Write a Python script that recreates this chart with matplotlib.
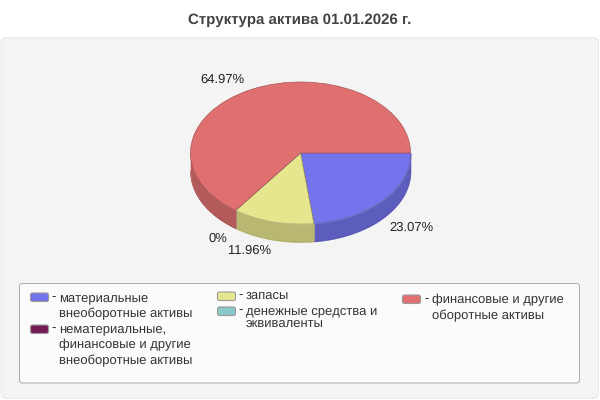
import numpy as np
import matplotlib
matplotlib.use('Agg')
import matplotlib.pyplot as plt
from matplotlib.patches import FancyBboxPatch

plt.rcParams['font.family'] = ['Liberation Sans', 'DejaVu Sans']
plt.rcParams['text.hinting'] = 'no_hinting'
plt.rcParams['text.hinting_factor'] = 1

title = 'Структура актива 01.01.2026 г.'
values = [23.07, 0, 11.96, 0, 64.97]
pct_labels = ['23.07%', '0%', '11.96%', '64.97%']
colors = ['#7474EC', '#741B55', '#E6E68F', '#8AC8C8', '#E07070']
legend_names = ['материальные\nвнеоборотные активы',
                'нематериальные,\nфинансовые и другие\nвнеоборотные активы',
                'запасы',
                'денежные средства и\nэквиваленты',
                'финансовые и другие\nоборотные активы']

W, H = 600, 400
fig = plt.figure(figsize=(6, 4), dpi=100, facecolor='white')

# фон в пикселях, y вниз
bg = fig.add_axes([0, 0, 1, 1])
bg.set_xlim(0, W)
bg.set_ylim(H, 0)
bg.axis('off')


def box(ax, x0, y0, x1, y1, r, fc, ec, lw=1, z=1):
    ax.add_patch(FancyBboxPatch((x0, y0), x1 - x0, y1 - y0,
                                boxstyle=f'round,pad=0,rounding_size={r}',
                                fc=fc, ec=ec, lw=lw, zorder=z))


box(bg, 1, 37.5, 598.5, 398.5, 6, '#F4F4F4', '#E8E8E8', lw=0.7)
box(bg, 19.5, 283.5, 579.5, 383, 3, '#FBFBFB', '#AAAAAA', lw=0.7)
bg.text(299.5, 20, title, ha='center', va='center', fontsize=10.6, fontweight='bold', color='#444444')

# пирог: оси по размеру эллипса, соотношение сторон свободное
cx, cy, rx, ry, depth = 300.5, 153, 110, 71, 18
pie_ax = fig.add_axes([(cx - rx) / W, 1 - (cy + ry) / H, 2 * rx / W, 2 * ry / H])
wedges, _ = pie_ax.pie(values, colors=colors, startangle=0, counterclock=False, radius=1,
                       wedgeprops={'linewidth': 0.5})
for w, c in zip(wedges, colors):
    w.set_edgecolor(tuple(v * 0.75 for v in matplotlib.colors.to_rgb(c)))
pie_ax.set_aspect('auto')
pie_ax.set_xlim(-1, 1)
pie_ax.set_ylim(-1, 1)
pie_ax.patch.set_visible(False)

# боковая стенка из тех же долей
d = depth / ry
edges = np.cumsum([0] + values) / sum(values) * 2 * np.pi
for i, c in enumerate(colors):
    a0, a1 = edges[i], min(edges[i + 1], np.pi)
    if a1 <= a0:
        continue
    t = np.linspace(a0, a1, 80)
    xs, ys = np.cos(t), -np.sin(t)
    side = tuple(v * 0.8 for v in matplotlib.colors.to_rgb(c))
    pie_ax.fill_between(xs, ys - d, ys, color=side, lw=0.4, zorder=0, clip_on=False)
    pie_ax.plot(xs, ys - d, color=tuple(v * 0.75 for v in matplotlib.colors.to_rgb(c)),
                lw=0.5, zorder=0.5, clip_on=False)

# подписи долей
label_pos = [(411, 228), (218, 239), (249, 251), (222, 80)]
for s, (x, y) in zip(pct_labels, label_pos):
    bg.text(x, y, s, ha='center', va='center', fontsize=9.5, color='#222222')

# легенда
swatches = [(30.5, 293), (30.5, 325), (217.5, 292), (217.5, 307), (402.5, 295)]
text_x = [59, 59, 246, 246, 432]
text_y = [298, 329, 296, 311, 300]
line_step = [16, 16, 16, 12.5, 16]
for i, name in enumerate(legend_names):
    sx, sy = swatches[i]
    box(bg, sx, sy, sx + 18, sy + 8.5, 2, colors[i], '#999999', lw=0.8, z=2)
    bg.text(text_x[i] - 5.5, text_y[i], '-', ha='center', va='center', fontsize=9.5, color='#333333')
    for j, line in enumerate(name.split('\n')):
        bg.text(text_x[i], text_y[i] + j * line_step[i], line, ha='left', va='center',
                fontsize=9.6, color='#333333')

fig.savefig('out.png', dpi=100, facecolor='white')
